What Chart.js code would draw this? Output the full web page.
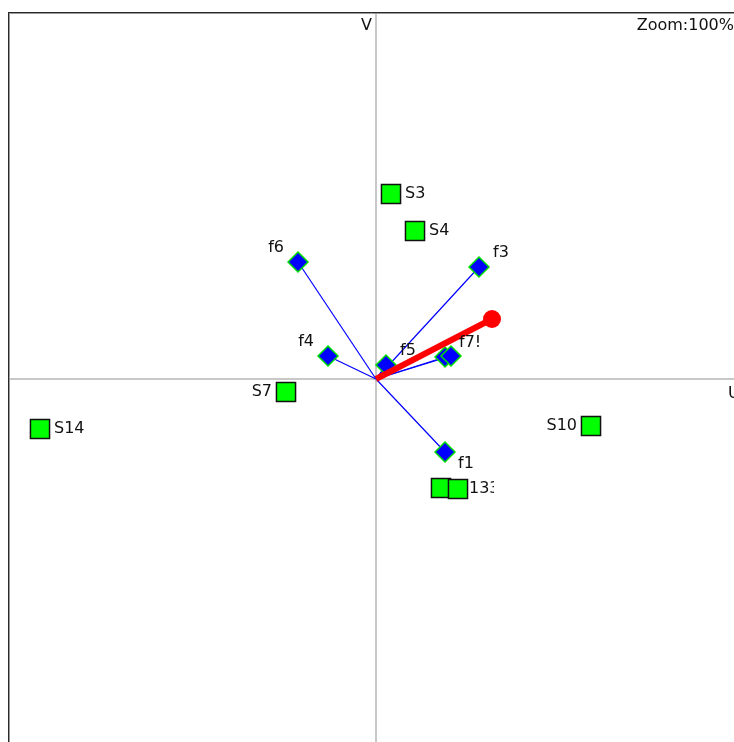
<!DOCTYPE html>
<html>
<head>
<meta charset="utf-8">
<script src="https://cdn.jsdelivr.net/npm/chart.js@4.4.1/dist/chart.umd.min.js"></script>
<style>
  html, body { margin: 0; padding: 0; background: #fff; }
  canvas { display: block; }
</style>
</head>
<body>
<canvas id="biplot" width="734" height="742"></canvas>
<script>
// sample scores on the U / V plane
const sampleNames = ["S3", "S4", "S7", "S10", "S14", "S12", "S13"];
const sampleU = [0.15, 0.39, -0.90, 2.15, -3.36, 0.65, 0.82];
const sampleV = [1.85, 1.48, -0.13, -0.47, -0.50, -1.09, -1.10];
const sampleText = ["S3", "S4", "S7", "S10", "S14", "", "133"];
const sampleSide = ["right", "right", "left", "left", "right", "right", "tightRight"];

// feature loadings, drawn as vectors from the origin
const featureNames = ["f1", "f3", "f4", "f5", "f6", "f7", "f8"];
const featureU = [0.69, 1.03, -0.48, 0.10, -0.78, 0.69, 0.75];
const featureV = [-0.73, 1.12, 0.23, 0.14, 1.17, 0.22, 0.23];
const featureText = ["f1", "f3", "f4", "f5", "f6", "f7!", ""];
const featureSide = ["downRight", "upRight", "upLeft", "upRight", "upLeft", "upRight", "upRight"];

// supplementary variable (red arrow)
const suppU = 1.16;
const suppV = 0.60;

const axisNames = { u: "U", v: "V" };
const zoomText = "Zoom:100%";

const FONT = "16px 'DejaVu Sans'";
const sideOffsets = {
  right: { dx: 14, dy: 0, align: "left" },
  tightRight: { dx: 11, dy: 0, align: "left" },
  left: { dx: -14, dy: 0, align: "right" },
  upLeft: { dx: -14, dy: -14, align: "right" },
  upRight: { dx: 14, dy: -14, align: "left" },
  downRight: { dx: 13, dy: 12, align: "left" },
};
// labels that are cut off at a fixed width
const clippedLabels = { "133": 25 };

const vectorSets = featureNames.map((name, i) => ({
  label: name + " vector",
  data: [{ x: 0, y: 0 }, { x: featureU[i], y: featureV[i] }],
  showLine: true,
  borderColor: "#0000ff",
  borderWidth: 1.2,
  pointRadius: 0,
  order: 3,
}));

const frameAndAxes = {
  id: "frameAndAxes",
  beforeDatasetsDraw(chart) {
    const { ctx, scales } = chart;
    const x0 = scales.x.getPixelForValue(0);
    const y0 = scales.y.getPixelForValue(0);
    const w = chart.width;
    const h = chart.height;
    ctx.save();
    // axis lines through the origin
    ctx.strokeStyle = "#c8c8c8";
    ctx.lineWidth = 2;
    ctx.beginPath();
    ctx.moveTo(x0, 12);
    ctx.lineTo(x0, h);
    ctx.moveTo(8, y0);
    ctx.lineTo(w, y0);
    ctx.stroke();
    // panel frame (top and left edges)
    ctx.lineWidth = 1;
    ctx.strokeStyle = "#2a2a2a";
    ctx.beginPath();
    ctx.moveTo(8, 12.5);
    ctx.lineTo(w, 12.5);
    ctx.moveTo(8.5, 12);
    ctx.lineTo(8.5, h);
    ctx.stroke();
    ctx.strokeStyle = "#999999";
    ctx.beginPath();
    ctx.moveTo(9, 13.5);
    ctx.lineTo(w, 13.5);
    ctx.moveTo(9.5, 13);
    ctx.lineTo(9.5, h);
    ctx.stroke();

    ctx.font = FONT;
    ctx.fillStyle = "#111111";
    ctx.textBaseline = "middle";
    ctx.textAlign = "right";
    ctx.fillText(axisNames.v, x0 - 4, 26);
    ctx.fillText(zoomText, w, 26);
    ctx.textAlign = "left";
    ctx.fillText(axisNames.u, w - 6, y0 + 15);
    ctx.restore();
  },
};

const pointLabels = {
  id: "pointLabels",
  afterDatasetsDraw(chart) {
    const { ctx } = chart;
    ctx.save();
    ctx.font = FONT;
    ctx.fillStyle = "#111111";
    ctx.textBaseline = "middle";
    const drawSet = (datasetIndex, texts, sides) => {
      chart.getDatasetMeta(datasetIndex).data.forEach((pt, i) => {
        const text = texts[i];
        if (!text) return;
        const off = sideOffsets[sides[i]];
        const tx = pt.x + off.dx;
        const ty = pt.y + off.dy;
        ctx.textAlign = off.align;
        if (clippedLabels[text]) {
          ctx.save();
          ctx.beginPath();
          ctx.rect(tx, ty - 12, clippedLabels[text], 24);
          ctx.clip();
          ctx.fillText(text, tx, ty);
          ctx.restore();
        } else {
          ctx.fillText(text, tx, ty);
        }
      });
    };
    drawSet(2, sampleText, sampleSide);
    drawSet(1, featureText, featureSide);
    ctx.restore();
  },
};

new Chart(document.getElementById("biplot"), {
  type: "scatter",
  data: {
    datasets: [
      {
        label: "supplementary",
        data: [{ x: 0, y: 0 }, { x: suppU, y: suppV }],
        showLine: true,
        borderColor: "#ff0000",
        borderWidth: 6,
        pointRadius: [0, 9],
        pointBackgroundColor: "#ff0000",
        pointBorderWidth: 0,
        order: 0,
      },
      {
        label: "features",
        data: featureNames.map((n, i) => ({ x: featureU[i], y: featureV[i] })),
        pointStyle: "rectRot",
        pointRadius: 10,
        backgroundColor: "#0000ff",
        borderColor: "#00e000",
        borderWidth: 1.5,
        order: 1,
      },
      {
        label: "samples",
        data: sampleNames.map((n, i) => ({ x: sampleU[i], y: sampleV[i] })),
        pointStyle: "rect",
        pointRadius: 13.5,
        backgroundColor: "#00ff00",
        borderColor: "#111111",
        borderWidth: 1.5,
        order: 2,
      },
      ...vectorSets,
    ],
  },
  options: {
    responsive: false,
    animation: false,
    devicePixelRatio: 1,
    layout: { padding: 0, autoPadding: false },
    plugins: {
      legend: { display: false },
      tooltip: { enabled: false },
    },
    scales: {
      x: { type: "linear", min: -3.76, max: 3.58, display: false },
      y: { type: "linear", min: -3.63, max: 3.79, display: false },
    },
  },
  plugins: [frameAndAxes, pointLabels],
});
</script>
</body>
</html>
